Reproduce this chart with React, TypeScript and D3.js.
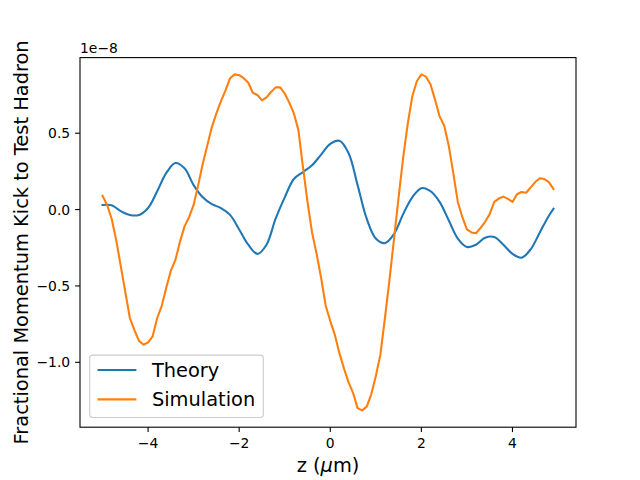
import * as d3 from "d3"

// z positions (µm) and fractional kick values in units of 1e-8
const theoryZ = [
  -5.0, -4.8, -4.6, -4.4, -4.2, -4.0, -3.8, -3.6, -3.4, -3.2, -3.0, -2.8, -2.6, -2.4, -2.2, -2.0, -1.8, -1.6,
  -1.4, -1.2, -1.0, -0.8, -0.6, -0.4, -0.2, 0.0, 0.2, 0.4, 0.6, 0.8, 1.0, 1.2, 1.4, 1.6, 1.8, 2.0, 2.2, 2.4,
  2.6, 2.8, 3.0, 3.2, 3.4, 3.6, 3.8, 4.0, 4.2, 4.4, 4.6, 4.8, 4.9,
]
const theoryV = [
  0.03, 0.028, -0.01, -0.035, -0.035, 0.01, 0.12, 0.24, 0.305, 0.27, 0.16, 0.08, 0.035, 0.01, -0.035, -0.13,
  -0.23, -0.29, -0.23, -0.06, 0.08, 0.2, 0.245, 0.29, 0.36, 0.43, 0.45, 0.37, 0.16, -0.06, -0.19, -0.22, -0.16,
  -0.03, 0.08, 0.14, 0.12, 0.05, -0.07, -0.19, -0.245, -0.23, -0.185, -0.18, -0.23, -0.29, -0.315, -0.26, -0.15,
  -0.04, 0.005,
]

const simZ = d3.range(100).map((i) => -5 + i * 0.1)
const simV = [
  0.09, 0.03, -0.06, -0.2, -0.37, -0.54, -0.71, -0.79, -0.86, -0.885,
  -0.87, -0.83, -0.71, -0.63, -0.51, -0.4, -0.33, -0.21, -0.11, -0.05,
  0.03, 0.16, 0.3, 0.42, 0.54, 0.63, 0.71, 0.78, 0.86, 0.885,
  0.88, 0.86, 0.83, 0.765, 0.75, 0.715, 0.735, 0.77, 0.8, 0.8,
  0.76, 0.7, 0.63, 0.52, 0.28, 0.05, -0.15, -0.29, -0.45, -0.63,
  -0.73, -0.82, -0.94, -1.04, -1.13, -1.2, -1.3, -1.315, -1.29, -1.21,
  -1.09, -0.95, -0.71, -0.46, -0.19, 0.08, 0.34, 0.56, 0.74, 0.84,
  0.885, 0.87, 0.82, 0.72, 0.61, 0.55, 0.42, 0.24, 0.05, -0.05,
  -0.13, -0.15, -0.155, -0.12, -0.08, -0.03, 0.05, 0.072, 0.085, 0.07,
  0.05, 0.1, 0.115, 0.11, 0.145, 0.18, 0.205, 0.2, 0.18, 0.135,
]

const xTicks = [-4, -2, 0, 2, 4]
const yTicks = [-1.0, -0.5, 0.0, 0.5]
const seriesNames = ["Theory", "Simulation"]
const colors = ["#1f77b4", "#ff7f0e"]

const W = 640
const H = 480
const margin = { left: 80, right: 64, top: 57.6, bottom: 52.8 }
const FONT = "DejaVu Sans, sans-serif"

const fmt = (v: number, digits: number) => v.toFixed(digits).replace("-", "\u2212")

export default function App() {
  const xs = [...theoryZ, ...simZ]
  const vs = [...theoryV, ...simV]
  const [x0, x1] = d3.extent(xs) as [number, number]
  const [y0, y1] = d3.extent(vs) as [number, number]
  const px = (x1 - x0) * 0.05
  const py = (y1 - y0) * 0.05

  const x = d3.scaleLinear().domain([x0 - px, x1 + px]).range([margin.left, W - margin.right])
  const y = d3.scaleLinear().domain([y0 - py, y1 + py]).range([H - margin.bottom, margin.top])

  const theoryLine = d3
    .line<number>()
    .x((_, i) => x(theoryZ[i]))
    .y((d) => y(d))
    .curve(d3.curveCatmullRom)
  const simLine = d3
    .line<number>()
    .x((_, i) => x(simZ[i]))
    .y((d) => y(d))

  const bottom = H - margin.bottom
  const left = margin.left
  const right = W - margin.right
  const top = margin.top

  // legend geometry (matplotlib-like, fontsize 14pt)
  const fs = 19.4
  const lgX = left + 9.7
  const lgW = 173.6
  const lgH = 62.4
  const lgY = bottom - 9.7 - lgH

  return (
    <svg
      width={W}
      height={H}
      style={{ position: "absolute", left: 0, top: 0, background: "#fff" }}
      fontFamily={FONT}
    >
      <defs>
        <clipPath id="plot-area">
          <rect x={left} y={top} width={right - left} height={bottom - top} />
        </clipPath>
      </defs>

      <g clipPath="url(#plot-area)" fill="none" strokeWidth={2.08} strokeLinejoin="round" strokeLinecap="square">
        <path d={theoryLine(theoryV) || ""} stroke={colors[0]} />
        <path d={simLine(simV) || ""} stroke={colors[1]} />
      </g>

      {/* spines */}
      <rect x={left} y={top} width={right - left} height={bottom - top} fill="none" stroke="#000" strokeWidth={1.1} />

      {/* x ticks */}
      {xTicks.map((t) => (
        <g key={"x" + t}>
          <line x1={x(t)} x2={x(t)} y1={bottom} y2={bottom + 4.9} stroke="#000" strokeWidth={1.1} />
          <text x={x(t)} y={bottom + 20.5} fontSize={13.9} textAnchor="middle" fill="#000">
            {fmt(t, 0)}
          </text>
        </g>
      ))}

      {/* y ticks */}
      {yTicks.map((t) => (
        <g key={"y" + t}>
          <line x1={left - 4.9} x2={left} y1={y(t)} y2={y(t)} stroke="#000" strokeWidth={1.1} />
          <text x={left - 9.8} y={y(t)} dy="0.36em" fontSize={13.9} textAnchor="end" fill="#000">
            {fmt(t, 1)}
          </text>
        </g>
      ))}

      <text x={left} y={53} fontSize={13.9} fill="#000">
        1e{"\u2212"}8
      </text>

      {/* axis labels */}
      <text x={(left + right) / 2} y={472} fontSize={fs} textAnchor="middle" fill="#000">
        z (<tspan fontStyle="italic">μ</tspan>m)
      </text>
      <text
        transform={`translate(27.5,${(top + bottom) / 2}) rotate(-90)`}
        fontSize={fs}
        textAnchor="middle"
        fill="#000"
      >
        Fractional Momentum Kick to Test Hadron
      </text>

      {/* legend */}
      <rect
        x={lgX}
        y={lgY}
        width={lgW}
        height={lgH}
        rx={3}
        fill="#fff"
        fillOpacity={0.8}
        stroke="#cccccc"
        strokeWidth={1.1}
      />
      {seriesNames.map((name, i) => {
        const cy = lgY + 14.9 + i * 29.4
        return (
          <g key={name}>
            <line x1={lgX + 7.8} x2={lgX + 7.8 + 38.9} y1={cy} y2={cy} stroke={colors[i]} strokeWidth={2.08} />
            <text x={lgX + 62.2} y={cy} dy="0.36em" fontSize={fs} fill="#000">
              {name}
            </text>
          </g>
        )
      })}
    </svg>
  )
}
